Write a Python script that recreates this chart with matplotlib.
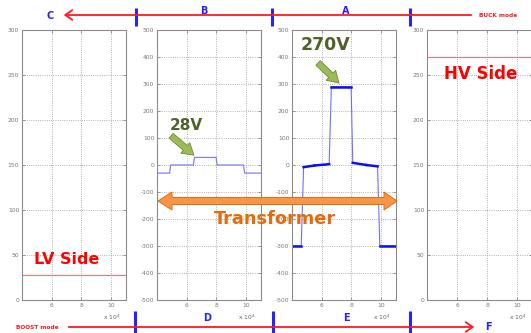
import numpy as np
import matplotlib.pyplot as plt
from matplotlib.patches import Polygon, FancyArrowPatch

plt.rcParams['axes.unicode_minus'] = False

# tension cote BT / HT (V)
lv_t = [4.0, 11.0]
lv_v = [28, 28]
hv_t = [4.0, 11.0]
hv_v = [270, 270]

# tension enroulement B (secondaire)
b_t = [4.0, 4.85, 4.92, 6.45, 6.52, 7.98, 8.04, 9.82, 9.9, 11.0]
b_v = [-30, -30, 0, 0, 28, 28, 0, 0, -30, -30]

# tension enroulement A (primaire)
a_t = [4.0, 4.62, 4.78, 5.5, 6.5, 6.65, 7.98, 8.09, 9.0, 9.76, 9.91, 11.0]
a_v = [-300, -300, -8, -2, 3, 290, 290, 8, 0, -5, -300, -300]

xticks = [6, 8, 10]
W, H = 531, 333

fig = plt.figure(figsize=(W / 100, H / 100), dpi=100)


def panel(left, width, ylim, ystep):
    ax = fig.add_axes([left / W, 1 - 300 / H, width / W, 270 / H])
    ax.set_xlim(4, 11)
    ax.set_ylim(*ylim)
    ax.set_xticks(xticks)
    ax.set_yticks(np.arange(ylim[0], ylim[1] + 1, ystep))
    ax.grid(True, linestyle=':', color='#9a9a9a', lw=0.6)
    ax.tick_params(direction='in', length=2, width=0.5, colors='#777777',
                   labelsize=4.3, pad=2, top=True, right=True)
    for s in ax.spines.values():
        s.set_color('#8c8c8c')
        s.set_linewidth(0.8)
    ax.text(0.86, -0.065, r'x 10$^4$', transform=ax.transAxes, fontsize=4.3,
            color='#666666', ha='center', va='center')
    return ax


ax1 = panel(22, 104, (0, 300), 50)
ax2 = panel(157, 104, (-500, 500), 100)
ax3 = panel(292, 104, (-500, 500), 100)
ax4 = panel(427, 105, (0, 300), 50)

ax1.plot(lv_t, lv_v, color='#ff7070', lw=0.8)
ax4.plot(hv_t, hv_v, color='#ff7070', lw=0.8)
ax2.plot(b_t, b_v, color='#8080ff', lw=0.9)

ax3.plot(a_t, a_v, color='#7070ff', lw=0.8)
a_t = np.array(a_t)
a_v = np.array(a_v)
for i in range(len(a_t) - 1):
    if abs(a_v[i + 1] - a_v[i]) < 50:
        ax3.plot(a_t[i:i + 2], a_v[i:i + 2], color='#1010ee', lw=1.8)

# annotations (coordonnees en pixels)
ann = fig.add_axes([0, 0, 1, 1])
ann.set_xlim(0, W)
ann.set_ylim(H, 0)
ann.axis('off')
ann.patch.set_visible(False)

red = '#ff1a1a'
blue = '#2424ff'
ann.annotate('', xy=(61, 15), xytext=(474, 15),
             arrowprops=dict(arrowstyle='->,head_length=0.5,head_width=0.35', color=red, lw=1.3))
ann.annotate('', xy=(477, 327), xytext=(66, 327),
             arrowprops=dict(arrowstyle='->,head_length=0.5,head_width=0.35', color=red, lw=1.3))
for x in [136, 272, 410]:
    ann.plot([x, x], [8, 26], color=blue, lw=2.2, solid_capstyle='butt')
for x in [135, 273, 410]:
    ann.plot([x, x], [311, 333], color=blue, lw=2.2, solid_capstyle='butt')

for lab, x, y in [('C', 50, 16), ('B', 204, 11), ('A', 346, 11),
                  ('D', 207, 318), ('E', 346, 318), ('F', 488, 327)]:
    ann.text(x, y, lab, color=blue, fontsize=7, fontweight='bold', ha='center', va='center')
ann.text(479, 15.5, 'BUCK mode', color=red, fontsize=4.2, fontweight='bold', ha='left', va='center')
ann.text(16, 327.5, 'BOOST mode', color=red, fontsize=4.2, fontweight='bold', ha='left', va='center')

ann.text(67, 260, 'LV Side', color='#ff0000', fontsize=11.5, fontweight='bold', ha='center', va='center')
ann.text(481, 74, 'HV Side', color='#ff0000', fontsize=12, fontweight='bold', ha='center', va='center')
ann.text(186, 126, '28V', color='#4f6228', fontsize=11, fontweight='bold', ha='center', va='center')
ann.text(325, 45, '270V', color='#4f6228', fontsize=12.5, fontweight='bold', ha='center', va='center')
ann.text(275, 219, 'Transformer', color='#e46c0a', fontsize=12.8, fontweight='bold', ha='center', va='center')

# fleches vertes
for start, end in [((169, 134), (196, 157)), ((316, 61), (341, 85))]:
    ann.add_patch(FancyArrowPatch(start, end,
                                  arrowstyle='simple,head_length=0.9,head_width=1.1,tail_width=0.5',
                                  mutation_scale=9, fc='#9bbb59', ec='#6f8a36', lw=0.6))

# double fleche orange
cy = 201
pts = [(158, cy), (172, cy - 9), (172, cy - 3.5), (384, cy - 3.5), (384, cy - 9),
       (397, cy), (384, cy + 9), (384, cy + 3.5), (172, cy + 3.5), (172, cy + 9)]
ann.add_patch(Polygon(pts, closed=True, fc='#f79646', ec='#e46c0a', lw=0.7))

fig.savefig('out.png', dpi=100)
